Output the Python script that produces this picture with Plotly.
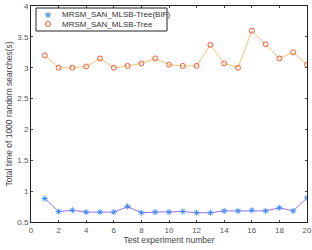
import plotly.graph_objects as go

x = list(range(1, 21))
bif = [0.88, 0.67, 0.69, 0.66, 0.66, 0.66, 0.75, 0.65, 0.66, 0.66,
       0.67, 0.65, 0.65, 0.68, 0.68, 0.69, 0.68, 0.73, 0.68, 0.89]
tree = [3.2, 3.0, 3.0, 3.02, 3.15, 3.0, 3.03, 3.07, 3.15, 3.05,
        3.03, 3.03, 3.37, 3.07, 3.0, 3.6, 3.38, 3.15, 3.25, 3.05]
names = ["MRSM_SAN_MLSB-Tree(BIF)", "MRSM_SAN_MLSB-Tree"]

blue_m = dict(symbol="asterisk-open", size=5, color="#3d8ef5", line=dict(width=1, color="#3d8ef5"))
red_m = dict(symbol="circle-open", size=5, color="#f05a3a", line=dict(width=1, color="#f05a3a"))

fig = go.Figure()
fig.add_trace(go.Scatter(x=x, y=bif, mode="lines+markers", name=names[0], showlegend=False,
                         line=dict(color="#9a6cf0", width=1), marker=blue_m))
fig.add_trace(go.Scatter(x=x, y=tree, mode="lines+markers", name=names[1], showlegend=False,
                         line=dict(color="#f7c377", width=1), marker=red_m))
# legend symbols only (text drawn as annotations for tighter layout)
fig.add_trace(go.Scatter(x=[None], y=[None], mode="markers", name=" ", marker=blue_m, legend="legend"))
fig.add_trace(go.Scatter(x=[None], y=[None], mode="markers", name=" ", marker=red_m, legend="legend2"))

font = "Liberation Sans, Arial"
axis_common = dict(
    showgrid=False, zeroline=False, mirror="ticks", showline=True,
    linecolor="#222", linewidth=1, ticks="inside", ticklen=2, tickcolor="#444",
    tickfont=dict(family=font, size=8, color="#555"),
)
leg_common = dict(xanchor="left", yanchor="middle", bgcolor="rgba(0,0,0,0)", borderwidth=0,
                  font=dict(family=font, size=6, color="#333"), itemwidth=30)

# legend geometry (pixels -> paper)
L, T, W, H = 31, 6, 276, 216
px = lambda p: (p - L) / W
py = lambda p: 1 - (p - T) / H

fig.update_layout(
    width=312, height=250,
    margin=dict(l=31, r=5, t=6, b=28, autoexpand=False),
    plot_bgcolor="white", paper_bgcolor="white",
    showlegend=True,
    legend=dict(x=px(28), y=py(15), **leg_common),
    legend2=dict(x=px(28), y=py(24), **leg_common),
    shapes=[dict(type="rect", xref="paper", yref="paper", x0=px(36), x1=px(167), y0=py(31), y1=py(8),
                 line=dict(color="#222", width=1), fillcolor="rgba(0,0,0,0)", layer="above")],
    annotations=[
        dict(text=names[0], xref="paper", yref="paper", x=px(60), y=py(15), xanchor="left", yanchor="middle",
             showarrow=False, font=dict(family=font, size=8, color="#333")),
        dict(text=names[1], xref="paper", yref="paper", x=px(60), y=py(24), xanchor="left", yanchor="middle",
             showarrow=False, font=dict(family=font, size=8, color="#333")),
    ],
    xaxis=dict(range=[0, 20], tickvals=list(range(0, 21, 2)),
               title=dict(text="Test experiment number", standoff=3,
                          font=dict(family=font, size=8.5, color="#444")),
               **axis_common),
    yaxis=dict(range=[0.5, 4], tickvals=[0.5, 1, 1.5, 2, 2.5, 3, 3.5, 4],
               ticktext=["0.5", "1", "1.5", "2", "2.5", "3", "3.5", "4"],
               title=dict(text="Total time of 1000 random searches(s)", standoff=3,
                          font=dict(family=font, size=8.5, color="#444")),
               **axis_common),
)
fig.write_html("out.html", config={"displayModeBar": False},
               post_script="document.body.style.margin='0';document.body.style.padding='0';")
